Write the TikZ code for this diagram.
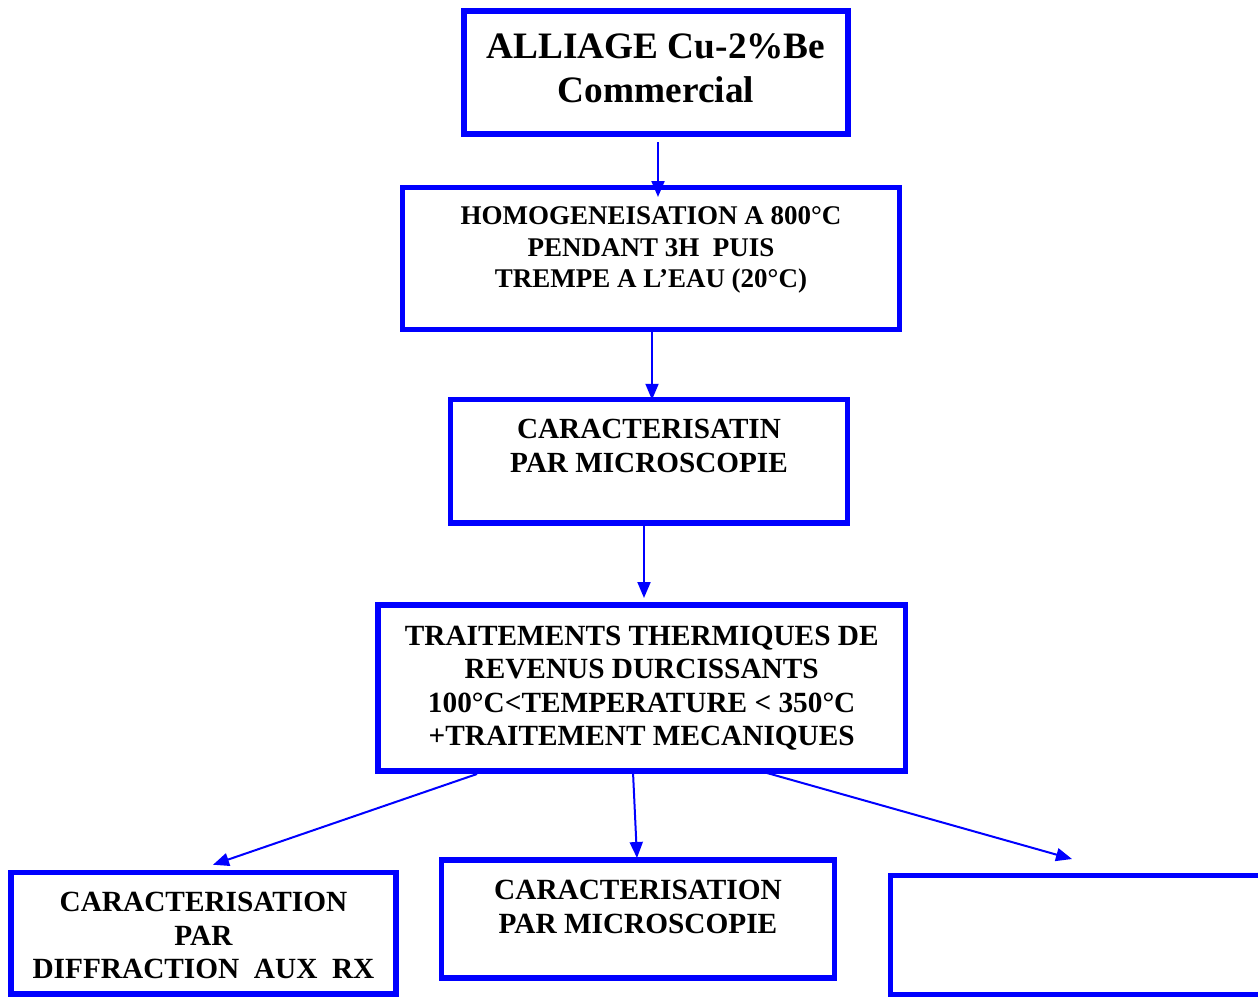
\documentclass[tikz,border=0pt]{standalone}
\usepackage{fontspec}
\setmainfont{Liberation Serif}
\usetikzlibrary{arrows.meta}
\begin{document}
\begin{tikzpicture}[x=1pt,y=-1pt,
  box/.style={draw=blue,line width=5.5pt,rectangle,inner sep=0pt,outer sep=0pt},
  txt/.style={align=center,inner sep=0pt,font=\bfseries},
  arr/.style={draw=blue,line width=2pt,-{Triangle[length=16pt,width=13pt]}}]
\useasboundingbox (0,0) rectangle (1258,996);
\clip (0,0) rectangle (1258,996);
% boxes
\node[box,minimum width=384pt,minimum height=123pt] (b1) at (656,72.5) {};
\node[box,minimum width=497pt,minimum height=142pt] (b2) at (651,258.5) {};
\node[box,minimum width=397pt,minimum height=123.5pt] (b3) at (649,461) {};
\node[box,minimum width=527.5pt,minimum height=166pt] (b4) at (641.7,688) {};
\node[box,minimum width=385pt,minimum height=121.5pt] (b5) at (203.5,933) {};
\node[box,minimum width=393pt,minimum height=118pt] (b6) at (638,919) {};
\node[box,minimum width=409.5pt,minimum height=119pt] (b7) at (1095.25,935) {};
% texts
\node[txt,font=\bfseries\fontsize{37.3}{43.5}\selectfont] (t1) at ([yshift=4pt]b1.center) {ALLIAGE Cu-2\%Be\\Commercial};
\node[txt,font=\bfseries\fontsize{27}{31.5}\selectfont] (t2) at ([yshift=8.5pt]b2.center) {HOMOGENEISATION A 800°C\\PENDANT 3H\ \ PUIS\\TREMPE A L’EAU (20°C)};
\node[txt,font=\bfseries\fontsize{29.2}{34}\selectfont] (t3) at ([yshift=15.5pt]b3.center) {CARACTERISATIN\\PAR MICROSCOPIE};
\node[txt,font=\bfseries\fontsize{29.3}{33.5}\selectfont] (t4) at ([yshift=0pt]b4.center) {TRAITEMENTS THERMIQUES DE\\REVENUS DURCISSANTS\\100°C<TEMPERATURE < 350°C\\+TRAITEMENT MECANIQUES};
\node[txt,font=\bfseries\fontsize{29.3}{33.8}\selectfont] (t5) at ([yshift=-2.5pt]b5.center) {CARACTERISATION\\PAR\\DIFFRACTION\ \ AUX\ \ RX};
\node[txt,font=\bfseries\fontsize{29.3}{33.5}\selectfont] (t6) at ([yshift=12pt]b6.center) {CARACTERISATION\\PAR MICROSCOPIE};
% arrows
\draw[arr] ([xshift=2pt,yshift=-8pt]b1.south) -- ([xshift=7pt,yshift=-9.5pt]b2.north);
\draw[arr] ([xshift=1pt,yshift=-0.5pt]b2.south) -- ([xshift=3pt,yshift=-0.5pt]b3.north);
\draw[arr] ([xshift=-5pt,yshift=-1pt]b3.south) -- ([xshift=2.3pt,yshift=7pt]b4.north);
\draw[arr] ([xshift=-164.7pt,yshift=-3pt]b4.south) -- ([xshift=9.5pt,yshift=7.5pt]b5.north);
\draw[arr] ([xshift=-8.7pt,yshift=-1pt]b4.south) -- ([xshift=-1pt,yshift=2pt]b6.north);
\draw[arr] ([xshift=125.3pt,yshift=-2pt]b4.south) -- ([xshift=181.5pt,yshift=16.5pt]b7.north west);
\end{tikzpicture}
\end{document}
